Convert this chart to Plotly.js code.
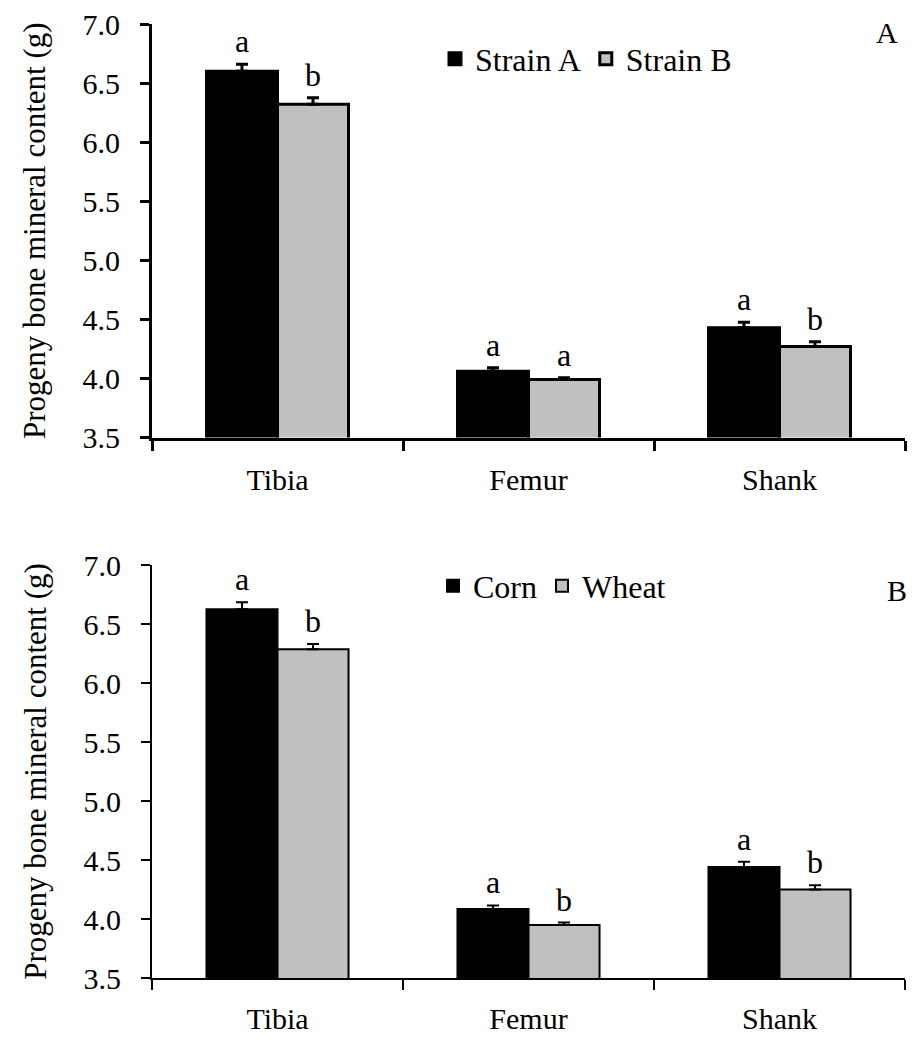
<!DOCTYPE html>
<html>
<head>
<meta charset="utf-8">
<script src="https://cdn.plot.ly/plotly-3.0.1.min.js"></script>
<style>
html,body{margin:0;padding:0;background:#fff;}
#chart{width:918px;height:1043px;}
#chart text{font-family:'Liberation Serif' !important;}
</style>
</head>
<body>
<div id="chart"></div>
<script>
// ---- data ----
const categories = ['Tibia', 'Femur', 'Shank'];
const strainA = [6.60, 4.06, 4.43];
const strainAErr = [0.06, 0.03, 0.045];
const strainB = [6.32, 3.99, 4.27];
const strainBErr = [0.055, 0.015, 0.04];
const strainALetters = ['a', 'a', 'a'];
const strainBLetters = ['b', 'a', 'b'];
const corn = [6.625, 4.085, 4.44];
const cornErr = [0.06, 0.03, 0.045];
const wheat = [6.285, 3.95, 4.25];
const wheatErr = [0.045, 0.02, 0.035];
const cornLetters = ['a', 'a', 'a'];
const wheatLetters = ['b', 'b', 'b'];
const yTickVals = [3.5, 4.0, 4.5, 5.0, 5.5, 6.0, 6.5, 7.0];
const yTitle = 'Progeny bone mineral content (g)';

// ---- layout constants ----
const W = 918, H = 1043;
const FONT = 'Liberation Serif';
const xDom = [152 / W, 905 / W];
const yDomTop = [1 - 437.5 / H, 1 - 24 / H];
const yDomBot = [1 - 978 / H, 1 - 565 / H];
const bargap = 0.434;
const catPx = (xDom[1] - xDom[0]) * W / categories.length;
const barOffPx = (1 - bargap) / 4 * catPx;

function zeros(a) { return a.map(() => 0); }

function barTrace(name, y, err, color, lw, xa, ya, leg) {
  return {
    type: 'bar', name: name, x: categories, y: y,
    xaxis: xa, yaxis: ya, legend: leg,
    marker: {color: color, line: {color: '#000', width: lw}},
    error_y: {type: 'data', array: err, arrayminus: zeros(err), symmetric: false,
              color: '#000', thickness: lw, width: 6},
    hoverinfo: 'skip'
  };
}

const traces = [
  barTrace('Strain A', strainA, strainAErr, '#000000', 3, 'x', 'y', 'legend'),
  barTrace('Strain B', strainB, strainBErr, '#c0c0c0', 3, 'x', 'y', 'legend'),
  barTrace('Corn', corn, cornErr, '#000000', 2, 'x2', 'y2', 'legend2'),
  barTrace('Wheat', wheat, wheatErr, '#c0c0c0', 2, 'x2', 'y2', 'legend2')
];

const annotations = [];
function addLetters(vals, errs, letters, xa, ya, sign) {
  letters.forEach((t, i) => {
    annotations.push({
      xref: xa, yref: ya, x: categories[i], y: vals[i] + errs[i],
      text: t, showarrow: false, xanchor: 'center', yanchor: 'bottom',
      xshift: sign * barOffPx, yshift: 3,
      font: {family: FONT, size: 32, color: '#000'}
    });
  });
}
addLetters(strainA, strainAErr, strainALetters, 'x', 'y', -1);
addLetters(strainB, strainBErr, strainBLetters, 'x', 'y', 1);
addLetters(corn, cornErr, cornLetters, 'x2', 'y2', -1);
addLetters(wheat, wheatErr, wheatLetters, 'x2', 'y2', 1);
annotations.push({xref: 'paper', yref: 'paper', x: 887 / W, y: 1 - 32 / H, text: 'A',
  showarrow: false, xanchor: 'center', yanchor: 'middle', font: {family: FONT, size: 30, color: '#000'}});
annotations.push({xref: 'paper', yref: 'paper', x: 897 / W, y: 1 - 590 / H, text: 'B',
  showarrow: false, xanchor: 'center', yanchor: 'middle', font: {family: FONT, size: 30, color: '#000'}});

function xAxis(anchor, lw) {
  return {
    domain: xDom, anchor: anchor, type: 'category', range: [-0.5, 2.5],
    showline: true, linecolor: '#000', linewidth: lw,
    ticks: 'outside', ticklen: 10, tickwidth: lw, tickcolor: '#000', tickson: 'boundaries',
    showgrid: false, zeroline: false, automargin: false,
    tickfont: {family: FONT, size: 30, color: '#000'}, ticklabelstandoff: 13
  };
}
function yAxis(anchor, dom, lw) {
  return {
    domain: dom, anchor: anchor, range: [3.5, 7.0], tickvals: yTickVals, tickformat: '.1f',
    showline: true, linecolor: '#000', linewidth: lw,
    ticks: 'outside', ticklen: 9, tickwidth: lw, tickcolor: '#000',
    showgrid: false, zeroline: false, automargin: false,
    tickfont: {family: FONT, size: 30, color: '#000'}, ticklabelstandoff: 14,
    title: {text: yTitle, font: {family: FONT, size: 31, color: '#000'}, standoff: 28}
  };
}

const layout = {
  width: W, height: H,
  margin: {l: 0, r: 0, t: 0, b: 0},
  paper_bgcolor: '#fff', plot_bgcolor: 'rgba(0,0,0,0)',
  barmode: 'group', bargap: bargap, bargroupgap: 0,
  font: {family: FONT, size: 30, color: '#000'},
  xaxis: xAxis('y', 3), yaxis: yAxis('x', yDomTop, 3),
  xaxis2: xAxis('y2', 2), yaxis2: yAxis('x2', yDomBot, 2),
  legend: {orientation: 'h', x: 435 / W, y: 1 - 59 / H, xanchor: 'left', yanchor: 'middle',
           font: {family: FONT, size: 32, color: '#000'}, bgcolor: 'rgba(0,0,0,0)', itemclick: false},
  legend2: {orientation: 'h', x: 433 / W, y: 1 - 586 / H, xanchor: 'left', yanchor: 'middle',
           font: {family: FONT, size: 32, color: '#000'}, bgcolor: 'rgba(0,0,0,0)', itemclick: false},
  annotations: annotations,
  showlegend: true
};

Plotly.newPlot('chart', traces, layout, {displayModeBar: false, staticPlot: true});
</script>
</body>
</html>
